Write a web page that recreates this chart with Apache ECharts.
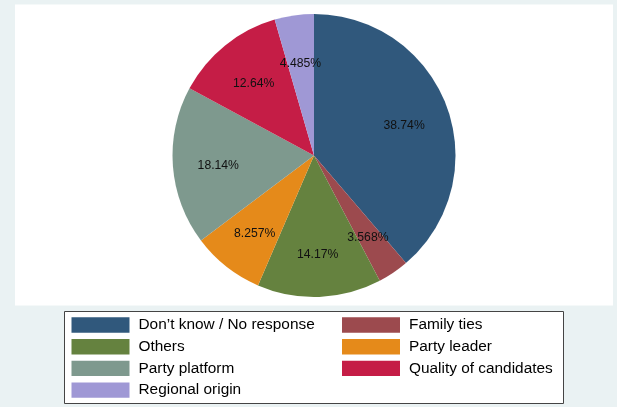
<!DOCTYPE html>
<html>
<head>
<meta charset="utf-8">
<script src="https://cdn.jsdelivr.net/npm/echarts@6/dist/echarts.min.js"></script>
<style>
html,body{margin:0;padding:0;background:#EAF2F3;}
#chart{width:617px;height:407px;}
</style>
</head>
<body>
<div id="chart"></div>
<script>
const categories = ["Don\u2019t know / No response", "Family ties", "Others", "Party leader", "Party platform", "Quality of candidates", "Regional origin"];
const shares = [38.74, 3.568, 14.17, 8.257, 18.14, 12.64, 4.485];
const colors = ["#30587C", "#9C4A4E", "#65823F", "#E58A1A", "#7E998E", "#C51D46", "#9F98D5"];
const legendLeft = ["Don\u2019t know / No response", "Others", "Party platform", "Regional origin"];
const legendRight = ["Family ties", "Party leader", "Quality of candidates"];

const data = categories.map((c, i) => ({ name: c, value: shares[i], itemStyle: { color: colors[i] } }));
const labelData = categories.map((c, i) => ({ name: c, value: shares[i] }));

const chart = echarts.init(document.getElementById('chart'), null, { renderer: 'canvas' });
const legendCommon = {
  orient: 'vertical',
  icon: 'rect',
  itemWidth: 58,
  itemHeight: 15.4,
  itemGap: 6.3,
  selectedMode: false,
  padding: 0,
  textStyle: { fontFamily: 'Liberation Sans, Arial, sans-serif', fontSize: 15.4, lineHeight: 15.4, color: '#000', padding: [0, 0, 0, 4] }
};
chart.setOption({
  backgroundColor: '#EAF2F3',
  animation: false,
  graphic: [
    { type: 'rect', z: -10, shape: { x: 15, y: 4.5, width: 598, height: 301 }, style: { fill: '#FFFFFF' } },
    { type: 'rect', z: -10, shape: { x: 64.5, y: 311.5, width: 499, height: 92 }, style: { fill: '#FFFFFF', stroke: '#444', lineWidth: 1 } }
  ],
  legend: [
    Object.assign({}, legendCommon, { left: 71.5, top: 317.3, data: legendLeft }),
    Object.assign({}, legendCommon, { left: 342, top: 317.3, data: legendRight })
  ],
  series: [
    {
      type: 'pie',
      center: [314, 155.5],
      radius: [0, 141.5],
      startAngle: 90,
      clockwise: true,
      silent: true,
      label: { show: false },
      labelLine: { show: false },
      itemStyle: { borderWidth: 0 },
      data: data
    },
    {
      type: 'pie',
      center: [314, 155.5],
      radius: [45, 141],
      startAngle: 90,
      clockwise: true,
      silent: true,
      itemStyle: { color: 'rgba(0,0,0,0)', borderWidth: 0 },
      label: {
        show: true,
        position: 'inside',
        formatter: p => p.value + '%',
        fontFamily: 'Liberation Sans, Arial, sans-serif',
        fontSize: 12.2,
        color: '#111',
        offset: [0, 3]
      },
      labelLine: { show: false },
      data: labelData
    }
  ]
});
</script>
</body>
</html>
